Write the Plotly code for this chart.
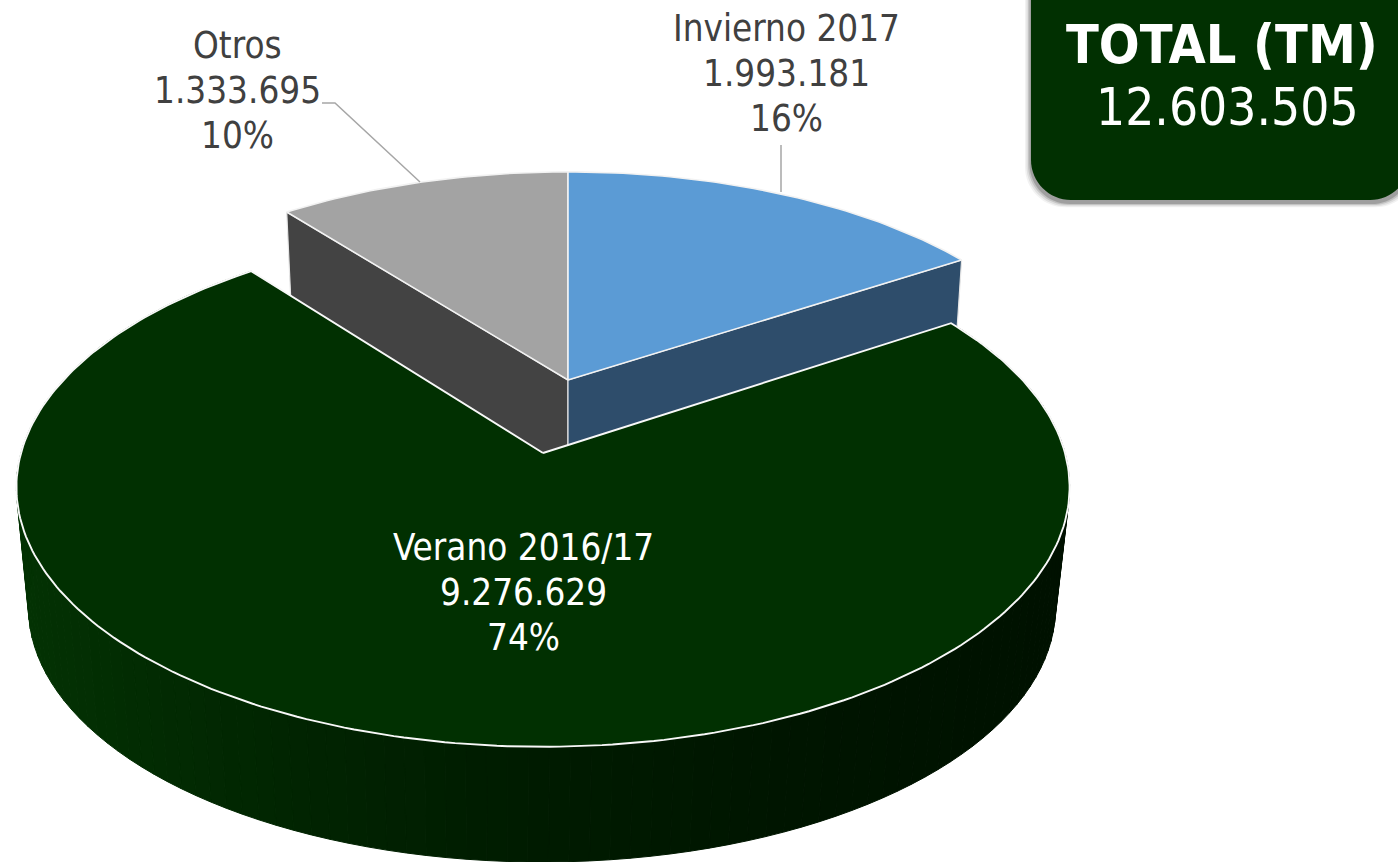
import math
import plotly.graph_objects as go

# ---- data ----
categories = ["Invierno 2017", "Verano 2016/17", "Otros"]
values = [1993181, 9276629, 1333695]
percent_labels = [16, 74, 10]
total_title = "TOTAL (TM)"
total_value = 12603505

# ---- style / view ----
W, H = 1398, 862
GREEN = "#013001"
FACE = {"Invierno 2017": "#5b9bd5", "Verano 2016/17": GREEN, "Otros": "#a3a3a3"}
WALL = {"Invierno 2017": "#2e4d6b", "Otros": "#434343"}
# projection of each slice: apex x, y, half width, half height, perspective
TOP_SMALL = (568, 380, 504, 236, 0.134)
LOW_SMALL = (568, 485, 495, 232, 0.134)
TOP_MAIN = (543, 453, 522, 255, 0.132)
LOW_MAIN = (542, 574, 509, 250, 0.132)
LABEL_POS = {"Invierno 2017": (786, 28, "#404040"), "Verano 2016/17": (523, 547, "#ffffff"), "Otros": (237, 45, "#404040")}
WALL_SHADE = [(20, 3, 50, 3), (150, 2, 43, 2), (300, 1, 36, 1), (540, 0, 27, 0), (800, 0, 21, 0), (1060, 0, 17, 0)]
FONT = "DejaVu Sans Condensed, DejaVu Sans, sans-serif"


def project(view, deg, radius=1.0):
    cx, cy, b, a, k = view
    t = math.radians(deg)
    X, Y = radius * math.sin(t), -radius * math.cos(t)
    s = 1 / (1 - k * Y)
    return cx + b * X * s, cy + a * Y * s


def arc(view, start, end, step=1.0):
    n = max(2, int(abs(end - start) / step))
    return [project(view, start + (end - start) * i / n) for i in range(n + 1)]


def shade(x):
    pts = WALL_SHADE
    if x <= pts[0][0]:
        return "rgb(%d,%d,%d)" % pts[0][1:]
    for p, q in zip(pts, pts[1:]):
        if x <= q[0]:
            f = (x - p[0]) / (q[0] - p[0])
            return "rgb(%d,%d,%d)" % tuple(round(p[i] + (q[i] - p[i]) * f) for i in (1, 2, 3))
    return "rgb(%d,%d,%d)" % pts[-1][1:]


def poly(fig, pts, fill, line="rgba(0,0,0,0)", width=0, name=""):
    xs = [p[0] for p in pts] + [pts[0][0]]
    ys = [p[1] for p in pts] + [pts[0][1]]
    fig.add_trace(go.Scatter(x=xs, y=ys, mode="lines", fill="toself", fillcolor=fill,
                             line=dict(color=line, width=width), name=name,
                             hoverinfo="name", showlegend=False))


total = sum(values)
spans = {c: v / total * 360 for c, v in zip(categories, values)}
a_inv = spans["Invierno 2017"]
a_main = a_inv + spans["Verano 2016/17"]

fig = go.Figure()

# small slices: radial walls, then faces
poly(fig, [project(TOP_SMALL, a_main), project(TOP_SMALL, 0, 0), project(LOW_SMALL, 0, 0), project(LOW_SMALL, a_main)],
     WALL["Otros"], "#e6e6e6", 1.2, "Otros")
poly(fig, [project(TOP_SMALL, a_inv), project(TOP_SMALL, 0, 0), project(LOW_SMALL, 0, 0), project(LOW_SMALL, a_inv)],
     WALL["Invierno 2017"], "#e6e6e6", 1.2, "Invierno 2017")
poly(fig, [project(TOP_SMALL, 0, 0)] + arc(TOP_SMALL, a_main, 360), FACE["Otros"], "#f2f2f2", 1.6, "Otros")
poly(fig, [project(TOP_SMALL, 0, 0)] + arc(TOP_SMALL, 0, a_inv), FACE["Invierno 2017"], "#f2f2f2", 1.6, "Invierno 2017")

# lead lines
fig.add_trace(go.Scatter(x=[322, 335, 420], y=[103, 103, 182], mode="lines",
                         line=dict(color="#a6a6a6", width=1.5), hoverinfo="skip", showlegend=False))
fig.add_trace(go.Scatter(x=[781, 781], y=[145, 192], mode="lines",
                         line=dict(color="#a6a6a6", width=1.5), hoverinfo="skip", showlegend=False))

# main slice: shaded outer wall, then face
top_arc = arc(TOP_MAIN, a_inv, a_main, 2.0)
low_arc = arc(LOW_MAIN, a_inv, a_main, 2.0)
for i in range(len(top_arc) - 1):
    c = shade((top_arc[i][0] + top_arc[i + 1][0]) / 2)
    poly(fig, [top_arc[i], top_arc[i + 1], low_arc[i + 1], low_arc[i]], c, c, 1, "Verano 2016/17")
poly(fig, [project(TOP_MAIN, 0, 0)] + arc(TOP_MAIN, a_inv, a_main), FACE["Verano 2016/17"], "#f8f8f8", 1.9, "Verano 2016/17")

# total box with soft shadow
def box_path(x0, y0, x1, y1, r):
    c = r * 0.45
    return (f"M{x0},{y0} L{x0},{y1 - r} C{x0},{y1 - c} {x0 + c},{y1} {x0 + r},{y1} "
            f"L{x1 - r},{y1} C{x1 - c},{y1} {x1},{y1 - c} {x1},{y1 - r} L{x1},{y0} Z")

shapes = []
for grow, op in [(6, 0.05), (4.5, 0.08), (3, 0.12), (1.5, 0.18)]:
    shapes.append(dict(type="path", path=box_path(1031 - grow, 0, 1410 + grow, 203 + grow * 0.7, 40),
                       fillcolor=f"rgba(0,0,0,{op})", line=dict(width=0), xref="x", yref="y"))
shapes.append(dict(type="path", path=box_path(1031, -5, 1410, 200, 40), fillcolor=GREEN,
                   line=dict(width=0), xref="x", yref="y"))

# labels
ann = []
for c, v, p in zip(categories, values, percent_labels):
    x, y, col = LABEL_POS[c]
    lines = [c, f"{v:,}".replace(",", "."), f"{p}%"]
    for i, t in enumerate(lines):
        ann.append(dict(x=x, y=y + i * 45, text=t, showarrow=False, xanchor="center", yanchor="middle",
                        font=dict(family=FONT, size=36.5, color=col)))
ann.append(dict(x=1222, y=44, text=f"<b>{total_title}</b>", showarrow=False, xanchor="center", yanchor="middle",
                font=dict(family=FONT, size=53.5, color="#ffffff")))
ann.append(dict(x=1227, y=107, text=f"{total_value:,}".replace(",", "."), showarrow=False, xanchor="center",
                yanchor="middle", font=dict(family=FONT, size=51, color="#ffffff")))

fig.update_layout(
    width=W, height=H, autosize=False, margin=dict(l=0, r=0, t=0, b=0),
    paper_bgcolor="white", plot_bgcolor="white", showlegend=False,
    xaxis=dict(range=[0, W], visible=False, fixedrange=True),
    yaxis=dict(range=[H, 0], visible=False, fixedrange=True),
    shapes=shapes, annotations=ann,
)
fig.write_html("out.html", config={"displayModeBar": False},
               post_script="document.body.style.margin='0';document.body.style.overflow='hidden';")
